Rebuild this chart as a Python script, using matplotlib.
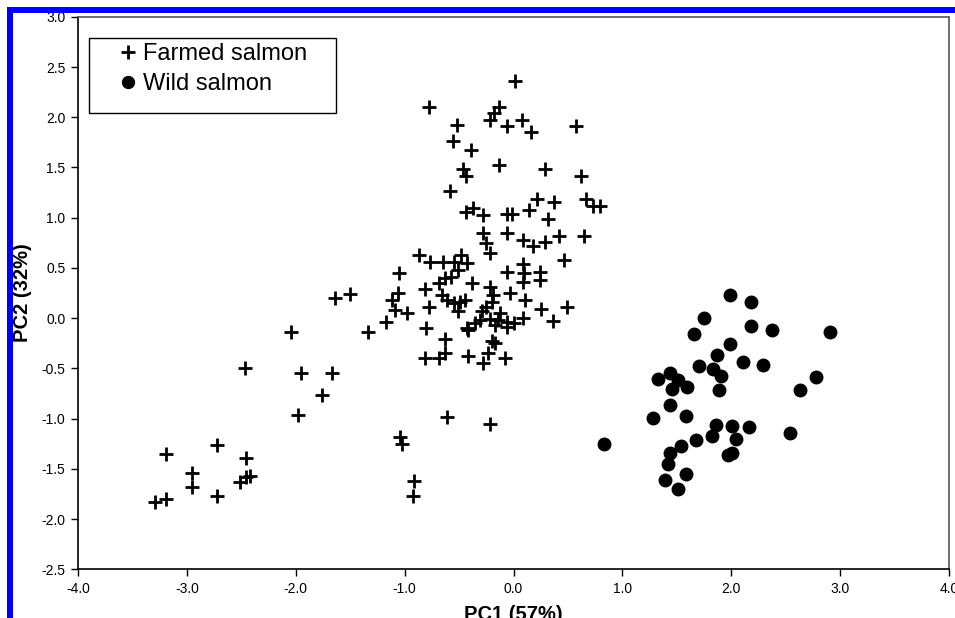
import numpy as np
import matplotlib
matplotlib.use('Agg')
import matplotlib.pyplot as plt
from matplotlib.patches import Rectangle

plt.rcParams['font.family'] = ['Liberation Sans', 'DejaVu Sans']

# PCA scores
farmed_pc1 = [
    -3.29, -3.19, -3.19, -2.95, -2.95, -2.72, -2.72, -2.46, -2.51, -2.46, -2.42, -2.47,
    -2.04, -1.95, -1.67, -1.76, -1.98, -1.64, -1.50, -1.34, -1.17,
    -1.04, -1.02, -0.91, -0.92, -0.61, -0.22,
    0.01, -0.78, -0.13, -0.18, -0.22, -0.52, -0.06, 0.08, 0.16, 0.57,
    -0.56, -0.39, -0.46, -0.44, -0.13, 0.29, 0.62, -0.58, 0.22, 0.37,
    0.67, 0.73, 0.79, 0.14, 0.32, -0.06, -0.01, -0.28, -0.44, -0.37,
    -0.28, -0.06, -0.25, -0.22, 0.09, 0.18, 0.29, 0.42, 0.65, 0.46,
    -0.06, 0.09, 0.10, 0.09, 0.24, 0.24, -0.22, -0.19, -0.03, 0.11,
    0.25, 0.49, 0.36, 0.09, -0.06, -0.20, -0.17, -0.23, -0.08, -0.28,
    -0.29, -0.25, -0.20, -0.31, -0.22, -0.14, -0.06, 0.00, -0.35, -0.43, -0.17, -0.12,
    -1.05, -1.06, -1.12, -1.09, -0.98, -0.87, -0.77, -0.65, -0.55, -0.48,
    -0.43, -0.51, -0.57, -0.63, -0.68, -0.38, -0.81, -0.66, -0.61, -0.55,
    -0.49, -0.45, -0.51, -0.78, -0.80, -0.63, -0.42, -0.81, -0.68, -0.63, -0.42,
]
farmed_pc2 = [
    -1.83, -1.80, -1.35, -1.54, -1.68, -1.26, -1.77, -1.39, -1.63, -1.58, -1.57, -0.50,
    -0.14, -0.55, -0.55, -0.76, -0.96, 0.20, 0.24, -0.14, -0.04,
    -1.18, -1.25, -1.62, -1.77, -0.98, -1.05,
    2.36, 2.10, 2.10, 2.04, 1.97, 1.92, 1.91, 1.97, 1.85, 1.91,
    1.76, 1.67, 1.48, 1.42, 1.52, 1.48, 1.42, 1.27, 1.19, 1.16,
    1.19, 1.12, 1.12, 1.08, 0.99, 1.04, 1.04, 1.03, 1.06, 1.10,
    0.85, 0.85, 0.75, 0.65, 0.78, 0.72, 0.76, 0.82, 0.82, 0.58,
    0.46, 0.54, 0.45, 0.36, 0.46, 0.38, 0.31, 0.23, 0.25, 0.18,
    0.09, 0.11, -0.03, 0.00, -0.09, -0.23, -0.25, -0.35, -0.40, -0.45,
    0.07, 0.11, 0.16, -0.02, -0.01, -0.02, -0.04, -0.05, -0.05, -0.10, -0.07, 0.05,
    0.45, 0.25, 0.18, 0.08, 0.05, 0.63, 0.56, 0.56, 0.56, 0.63,
    0.55, 0.48, 0.41, 0.40, 0.35, 0.35, 0.29, 0.23, 0.18, 0.15,
    0.16, 0.18, 0.07, 0.11, -0.10, -0.21, -0.12, -0.40, -0.40, -0.35, -0.38,
]
wild_pc1 = [
    1.99, 2.18, 1.75, 1.66, 2.18, 2.37, 2.91, 1.99, 1.87, 1.70,
    2.11, 2.29, 1.83, 1.91, 1.89, 1.44, 1.33, 1.51, 1.46, 1.59,
    2.78, 2.63, 1.44, 1.28, 1.58, 1.86, 2.01, 2.16, 2.54, 1.82,
    2.04, 1.68, 1.54, 0.83, 1.44, 1.97, 2.01, 1.42, 1.58, 1.39, 1.51,
]
wild_pc2 = [
    0.23, 0.16, 0.00, -0.16, -0.08, -0.12, -0.14, -0.26, -0.37, -0.48,
    -0.44, -0.47, -0.51, -0.58, -0.72, -0.55, -0.61, -0.62, -0.71, -0.69,
    -0.59, -0.72, -0.86, -0.99, -0.97, -1.06, -1.07, -1.08, -1.14, -1.17,
    -1.20, -1.21, -1.27, -1.25, -1.34, -1.36, -1.34, -1.45, -1.55, -1.61, -1.70,
]

xticks = np.arange(-4.0, 4.01, 1.0)
yticks = np.arange(-2.5, 3.01, 0.5)

fig = plt.figure(figsize=(9.55, 6.18), dpi=100)
ax = fig.add_axes([0.0817, 0.0788, 0.912, 0.894])

ax.plot(farmed_pc1, farmed_pc2, '+', color='black', markersize=10,
        markeredgewidth=2.0, linestyle='none', label='Farmed salmon', zorder=3)
ax.plot(wild_pc1, wild_pc2, 'o', color='black', markersize=9,
        linestyle='none', label='Wild salmon', zorder=3)

ax.set_xlim(-4, 4)
ax.set_ylim(-2.5, 3)
ax.set_xticks(xticks)
ax.set_yticks(yticks)
ax.set_xticklabels([f'{v:.1f}' for v in xticks])
ax.set_yticklabels([f'{v:.1f}' for v in yticks])
ax.tick_params(direction='out', length=5, width=1, labelsize=10, pad=4)

for side in ['left', 'bottom']:
    ax.spines[side].set_color('black')
    ax.spines[side].set_linewidth(1.2)
for side in ['top', 'right']:
    ax.spines[side].set_color('#555555')
    ax.spines[side].set_linewidth(1.2)

ax.set_xlabel('PC1 (57%)', fontsize=14.5, fontweight='bold')
ax.set_ylabel('PC2 (32%)', fontsize=14.5, fontweight='bold')
ax.xaxis.set_label_coords(0.5, -0.064)
ax.yaxis.set_label_coords(-0.0534, 0.5)

# legend box drawn as a plain rectangle, entries without frame
ax.add_patch(Rectangle((0.0126, 0.8257), 0.2836, 0.1358, transform=ax.transAxes,
                       facecolor='white', edgecolor='black', linewidth=1, zorder=5))
leg = ax.legend(loc='upper left', bbox_to_anchor=(0.0439, 0.953), frameon=False,
                fontsize=17, borderpad=0, borderaxespad=0, handlelength=1.0,
                handletextpad=0.15, labelspacing=0.34, markerscale=0.95)
leg.set_zorder(6)

# blue border lines around the figure
fig.add_artist(Rectangle((7 / 955, 1 - 13 / 618), 1, 6 / 618, transform=fig.transFigure,
                         facecolor='#0000ff', edgecolor='none', zorder=10))
fig.add_artist(Rectangle((7 / 955, 0), 6 / 955, 1 - 7 / 618, transform=fig.transFigure,
                         facecolor='#0000ff', edgecolor='none', zorder=10))

fig.savefig('out.png', dpi=100)
plt.close(fig)
